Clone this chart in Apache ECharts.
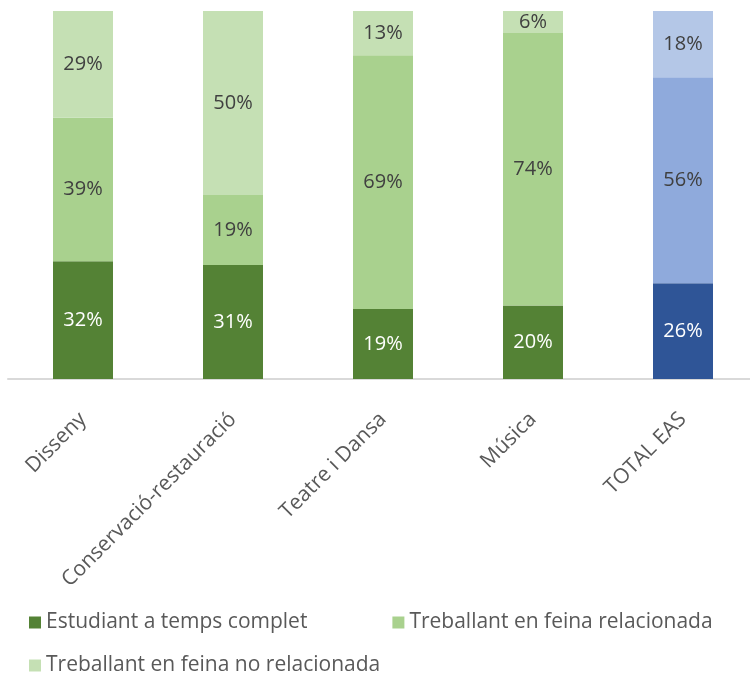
<!DOCTYPE html>
<html>
<head>
<meta charset="utf-8">
<script src="https://cdn.jsdelivr.net/npm/echarts@6/dist/echarts.min.js"></script>
<style>
	html, body { margin: 0; padding: 0; background: #fff; }
	#chart { width: 750px; height: 677px; }
</style>
</head>
<body>
<div id="chart"></div>
<script>
// categories
var categories = ["Disseny", "Conservació-restauració", "Teatre i Dansa", "Música", "TOTAL EAS"];
// series names
var seriesNames = ["Estudiant a temps complet", "Treballant en feina relacionada", "Treballant en feina no relacionada"];
// values (%)
var estudiant = [32, 31, 19, 20, 26];
var relacionada = [39, 19, 69, 74, 56];
var noRelacionada = [29, 50, 13, 6, 18];

var greens = ["#548235", "#A9D18E", "#C5E0B4"];
var blues = ["#2F5597", "#8FAADC", "#B4C7E7"];
var labelColors = ["#ffffff", "#404040", "#404040"];
var font = "Open Sans";

// per-barra: l'ultima (TOTAL EAS) en blau
function buildData(values, idx) {
	return values.map(function(v, i) {
		var isTotal = categories[i] == "TOTAL EAS";
		return {
			value: v,
			itemStyle: { color: isTotal ? blues[idx] : greens[idx] }
		};
	});
}

var allValues = [estudiant, relacionada, noRelacionada];
var series = allValues.map(function(vals, idx) {
	return {
		name: seriesNames[idx],
		type: 'bar',
		stack: 'total',
		barWidth: 60,
		color: greens[idx],
		data: buildData(vals, idx),
		label: {
			show: true,
			position: 'inside',
			formatter: '{c}%',
			color: labelColors[idx],
			fontFamily: font,
			fontSize: 20
		}
	};
});

var myChart = echarts.init(document.getElementById('chart'));
myChart.setOption({
	animation: false,
	grid: { left: 8, width: 750, top: 11, bottom: 298, outerBoundsMode: 'none' },
	legend: [{
		data: [seriesNames[0], seriesNames[1]],
		left: 24, top: 607,
		itemWidth: 12, itemHeight: 12, itemGap: 85,
		icon: 'rect',
		textStyle: { fontFamily: font, fontSize: 21, color: '#595959' }
	}, {
		data: [seriesNames[2]],
		left: 24, top: 650,
		itemWidth: 12, itemHeight: 12,
		icon: 'rect',
		textStyle: { fontFamily: font, fontSize: 21, color: '#595959' }
	}],
	xAxis: {
		type: 'category',
		data: categories,
		axisLine: { lineStyle: { color: '#D9D9D9', width: 2 } },
		axisTick: { show: false },
		axisLabel: {
			rotate: 45,
			interval: 0,
			margin: 37,
			fontFamily: font,
			fontSize: 21,
			color: '#595959'
		}
	},
	yAxis: {
		type: 'value',
		min: 0,
		max: 100,
		show: false
	},
	series: series
});
</script>
</body>
</html>
